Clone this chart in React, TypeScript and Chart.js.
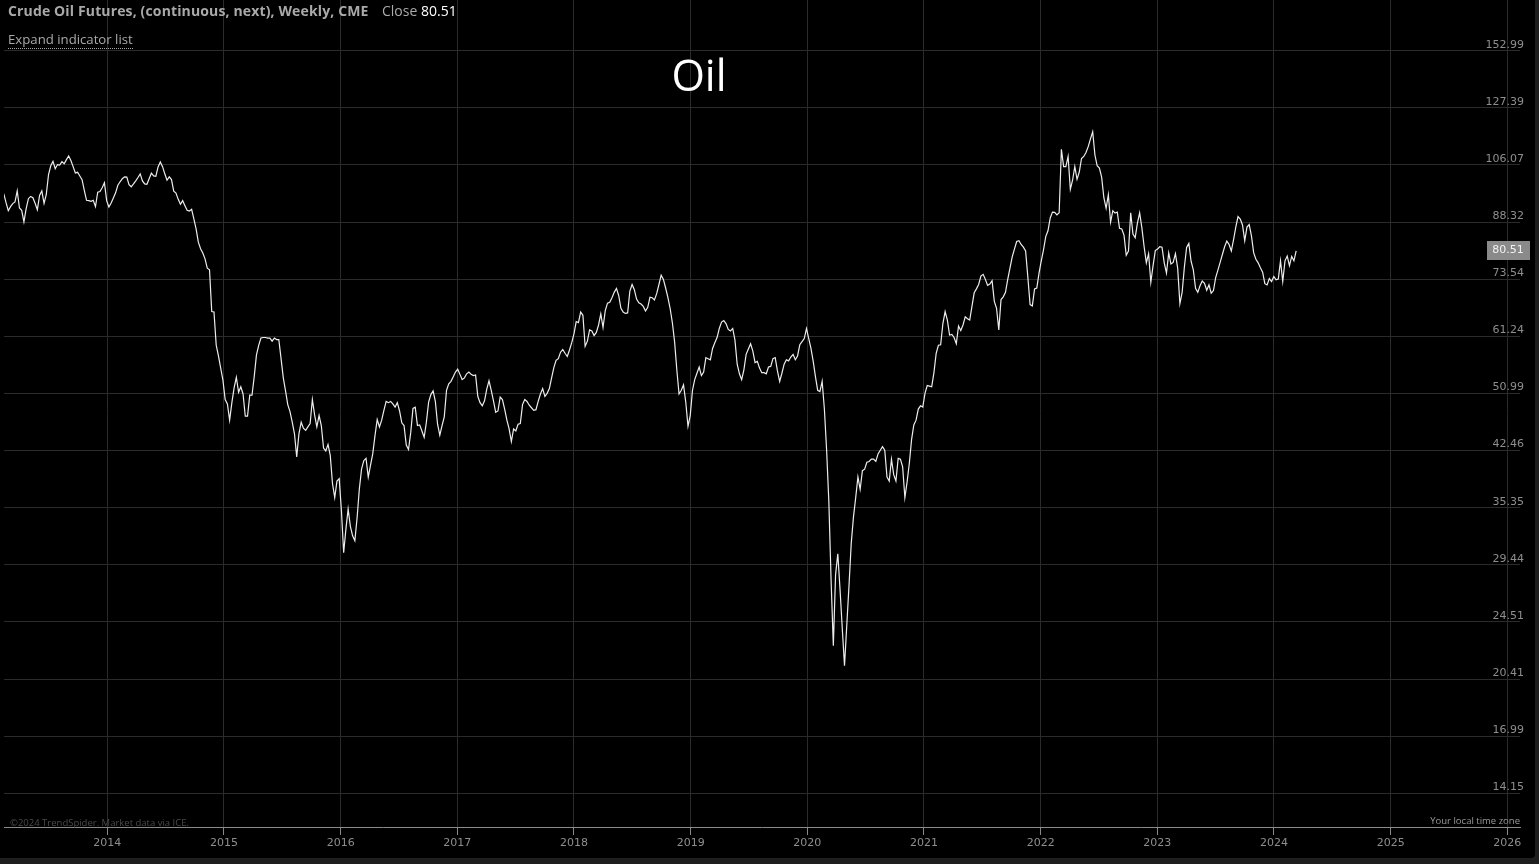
import React, { useEffect, useRef } from "react";
import { Chart, registerables } from "chart.js";

Chart.register(...registerables);

// ---- data (weekly closes, Crude Oil Futures continuous next, CME) ----
const firstWeek = "2013-02-11";

const close2013 = [96.7, 94.0, 91.6, 92.8, 93.7, 94.2, 97.6, 92.4, 91.7, 88.4, 92.2, 95.2, 95.9, 95.5, 93.8, 91.9, 96.2, 97.6, 93.8, 96.5, 102.8, 105.8, 107.3, 104.8, 106.2, 106.0, 107.2, 106.5, 107.9, 109.2, 107.6, 105.5, 103.4, 103.6, 102.4, 101.2, 97.8, 94.7, 94.6, 94.4, 94.7, 92.8, 97.2, 97.4, 98.6, 100.2, 94.6];
const close2014 = [92.7, 93.9, 95.4, 97.0, 99.4, 100.5, 101.5, 102.1, 102.0, 99.6, 98.9, 99.8, 100.8, 101.9, 103.1, 100.8, 99.8, 99.7, 101.5, 103.3, 102.4, 102.3, 105.4, 107.1, 105.5, 103.1, 101.0, 102.1, 101.2, 97.5, 96.9, 95.0, 93.5, 94.6, 93.1, 91.7, 91.5, 92.0, 89.2, 86.4, 82.8, 81.1, 80.0, 78.5, 76.2, 75.8, 66.3, 66.2, 59.5, 57.5, 55.3, 53.2];
const close2015 = [50.0, 49.3, 46.8, 49.5, 51.9, 53.7, 51.2, 52.1, 50.9, 47.4, 47.4, 50.7, 50.7, 53.8, 57.7, 59.5, 60.9, 61.0, 61.0, 60.9, 60.9, 60.3, 60.9, 60.6, 60.6, 57.0, 53.6, 51.4, 49.2, 48.1, 46.5, 44.8, 41.6, 44.8, 46.5, 45.6, 45.3, 45.8, 46.3, 50.0, 47.6, 45.8, 47.5, 46.0, 42.8, 42.4, 43.3, 41.8, 38.2, 36.5, 38.5, 38.8];
const close2016 = [35.0, 30.6, 33.0, 35.2, 33.3, 32.3, 31.8, 34.2, 37.5, 40.0, 41.1, 41.4, 39.0, 40.5, 42.0, 44.5, 46.9, 45.8, 46.8, 48.3, 49.7, 49.5, 49.7, 49.3, 48.8, 49.5, 48.2, 46.4, 46.0, 43.2, 42.6, 45.0, 48.6, 48.8, 46.0, 46.1, 45.2, 44.3, 46.5, 49.6, 50.8, 51.4, 49.7, 46.2, 44.6, 46.0, 47.3, 51.5, 52.6, 53.0, 53.8, 54.6];
const close2017 = [55.1, 54.2, 53.3, 53.6, 54.3, 54.6, 54.2, 54.0, 54.1, 50.5, 49.5, 49.0, 49.8, 51.7, 53.1, 51.5, 49.8, 48.0, 48.2, 50.4, 50.0, 48.5, 46.8, 45.5, 43.7, 45.5, 45.2, 46.2, 46.3, 49.2, 50.0, 49.7, 49.1, 48.7, 48.3, 48.4, 49.7, 50.9, 51.8, 50.5, 51.0, 51.8, 53.6, 55.4, 56.7, 57.0, 58.2, 58.7, 58.0, 57.4, 58.6, 60.0];
const close2018 = [61.7, 64.2, 64.0, 66.2, 65.5, 59.3, 60.3, 62.5, 62.3, 61.4, 62.0, 63.5, 65.8, 63.0, 66.5, 68.1, 68.3, 69.3, 70.5, 71.4, 69.8, 67.0, 66.2, 65.9, 66.0, 70.8, 72.3, 71.1, 69.0, 68.2, 67.9, 67.4, 66.4, 67.2, 69.4, 69.3, 68.8, 70.2, 72.3, 74.5, 73.5, 71.5, 69.4, 67.0, 64.0, 60.2, 55.0, 50.9, 51.5, 52.4, 49.6, 45.9, 47.5];
const close2019 = [51.5, 53.3, 54.4, 55.5, 54.0, 54.6, 57.2, 57.0, 56.8, 58.9, 60.0, 61.0, 62.8, 64.1, 64.4, 63.8, 62.6, 62.3, 62.8, 60.5, 56.0, 54.3, 53.3, 55.0, 57.8, 58.8, 59.8, 58.4, 56.3, 56.5, 55.3, 54.5, 54.5, 54.3, 55.5, 55.6, 57.0, 57.2, 54.8, 53.0, 54.4, 56.0, 56.8, 56.6, 57.3, 57.8, 56.8, 57.5, 59.6, 60.2, 60.8, 62.8];
const close2020 = [60.8, 58.9, 56.5, 53.8, 51.5, 51.3, 53.0, 48.5, 42.5, 36.0, 28.0, 22.7, 28.5, 30.5, 27.2, 24.0, 21.3, 24.2, 27.5, 31.5, 34.3, 36.5, 39.0, 37.5, 39.8, 40.0, 40.9, 41.0, 41.3, 41.3, 41.0, 42.0, 42.5, 43.0, 42.5, 39.0, 38.5, 41.3, 39.3, 38.5, 41.4, 41.3, 40.3, 36.5, 38.4, 40.8, 44.0, 46.1, 46.8, 48.5, 49.0, 48.8];
const close2021 = [51.0, 52.3, 52.2, 52.1, 54.5, 58.0, 59.5, 59.6, 63.8, 66.3, 64.5, 61.5, 61.6, 61.0, 59.8, 63.3, 62.4, 63.5, 65.2, 64.8, 64.5, 67.4, 70.4, 71.3, 72.3, 74.3, 74.7, 73.5, 72.1, 72.4, 73.2, 68.5, 67.0, 62.5, 68.9, 69.5, 70.5, 73.5, 76.2, 79.0, 81.0, 83.0, 83.2, 82.2, 81.5, 80.5, 74.0, 67.8, 67.5, 71.3, 71.5, 75.0];
const close2022 = [78.0, 80.8, 84.3, 85.9, 89.5, 91.2, 91.1, 90.4, 91.0, 111.5, 105.5, 105.5, 109.0, 98.1, 101.0, 105.5, 101.3, 103.7, 108.3, 109.0, 110.4, 112.5, 115.3, 118.0, 109.5, 105.8, 105.0, 102.0, 95.5, 92.3, 96.4, 88.3, 91.6, 90.9, 91.2, 86.6, 86.4, 84.7, 79.4, 80.5, 91.0, 85.0, 84.0, 88.0, 91.0, 86.7, 81.6, 77.5, 79.8, 72.8, 76.8, 80.6];
const close2023 = [81.0, 81.6, 81.5, 77.5, 75.0, 80.0, 77.2, 77.6, 79.8, 76.2, 68.0, 70.5, 76.4, 81.4, 82.5, 77.9, 75.8, 71.4, 70.5, 72.0, 73.1, 72.6, 71.0, 72.2, 70.3, 70.9, 73.9, 75.7, 77.6, 79.6, 81.6, 83.1, 82.2, 80.5, 83.5, 86.9, 89.9, 89.2, 87.5, 83.2, 86.9, 87.6, 84.5, 80.0, 78.4, 77.5, 76.3, 75.2, 72.5, 72.2, 73.7, 73.0];
const close2024 = [74.2, 73.4, 73.6, 78.0, 73.0, 78.0, 79.2, 76.8, 79.1, 78.0, 80.51];

const yearTicks = [2014, 2015, 2016, 2017, 2018, 2019, 2020, 2021, 2022, 2023, 2024, 2025, 2026];
const priceTicks = [14.15, 16.99, 20.41, 24.51, 29.44, 35.35, 42.46, 50.99, 61.24, 73.54, 88.32, 106.07, 127.39, 152.99];

const X_MIN = 2013.1146;
const X_MAX = 2026.1089;
const Y_MIN = 12.7;
const Y_MAX = 180.0;

const weeklyClose = [
  ...close2013, ...close2014, ...close2015, ...close2016, ...close2017, ...close2018,
  ...close2019, ...close2020, ...close2021, ...close2022, ...close2023, ...close2024,
];
const lastClose = weeklyClose[weeklyClose.length - 1];

const DAY = 86400000;
function decimalYear(ms: number) {
  return 1970 + ms / DAY / 365.25;
}

const CANVAS_W = 1535;
const CANVAS_H = 858;

const lastPriceTag = {
  id: "lastPriceTag",
  afterDraw(chart: any) {
    const { ctx, chartArea, scales } = chart;
    const y = scales.y.getPixelForValue(lastClose);
    ctx.save();
    ctx.fillStyle = "#8a8a8a";
    ctx.fillRect(chartArea.right - 33, Math.round(y) - 10, 43, 19);
    ctx.fillStyle = "#f2f2f2";
    ctx.font = "11px 'DejaVu Sans'";
    ctx.textAlign = "center";
    ctx.textBaseline = "middle";
    ctx.fillText(lastClose.toFixed(2), chartArea.right - 12, Math.round(y) - 0.5);
    ctx.restore();
  },
};

export default function App() {
  const ref = useRef<HTMLCanvasElement | null>(null);

  useEffect(() => {
    document.body.style.margin = "0";
    document.body.style.background = "#1e1e1e";
    const canvas = ref.current;
    if (!canvas) return;
    const t0 = decimalYear(Date.parse(firstWeek + "T00:00:00Z"));
    const points = weeklyClose.map((v, i) => ({ x: t0 + (i * 7) / 365.25, y: v }));

    const chart = new Chart(canvas, {
      type: "line",
      data: {
        datasets: [
          {
            data: points,
            borderColor: "#ededed",
            borderWidth: 1.2,
            pointRadius: 0,
            tension: 0,
            fill: false,
          },
        ],
      },
      options: {
        animation: false,
        responsive: false,
        maintainAspectRatio: false,
        events: [],
        layout: { padding: { left: 4, right: 0, top: 0, bottom: 0 } },
        plugins: {
          legend: { display: false },
          tooltip: { enabled: false },
          title: { display: false },
        },
        scales: {
          x: {
            type: "linear",
            min: X_MIN,
            max: X_MAX,
            afterBuildTicks: (s: any) => {
              s.ticks = yearTicks.map((v) => ({ value: v }));
            },
            afterFit: (s: any) => {
              s.height = 31;
              s.paddingLeft = 0;
              s.paddingRight = 0;
            },
            grid: {
              color: "#2b2b2b",
              lineWidth: 1,
              drawTicks: true,
              tickLength: 8,
              tickColor: "#8a8a8a",
            },
            border: { display: true, color: "#8a8a8a", width: 1 },
            ticks: {
              color: "#8e8e8e",
              font: { family: "'DejaVu Sans'", size: 11 },
              padding: 2,
              maxRotation: 0,
              autoSkip: false,
              callback: (v: any) => String(v),
            },
          },
          y: {
            type: "logarithmic",
            position: "right",
            min: Y_MIN,
            max: Y_MAX,
            afterBuildTicks: (s: any) => {
              s.ticks = priceTicks.map((v) => ({ value: v }));
            },
            afterFit: (s: any) => {
              s.width = 15;
              s.paddingTop = 0;
              s.paddingBottom = 0;
            },
            grid: { color: "#2b2b2b", lineWidth: 1, drawTicks: false },
            border: { display: false },
            ticks: {
              mirror: true,
              padding: 4,
              labelOffset: -6,
              color: "#8e8e8e",
              font: { family: "'DejaVu Sans'", size: 11 },
              autoSkip: false,
              callback: (v: any) => Number(v).toFixed(2),
            },
          },
        },
      },
      plugins: [lastPriceTag],
    });
    return () => chart.destroy();
  }, []);

  const gray = "#a9a9a9";
  return (
    <div style={{ position: "relative", width: 1539, height: 864, background: "#1e1e1e", overflow: "hidden" }}>
      <canvas
        ref={ref}
        width={CANVAS_W}
        height={CANVAS_H}
        style={{ position: "absolute", left: 0, top: 0, width: CANVAS_W, height: CANVAS_H, background: "#000", borderBottomRightRadius: 4 }}
      />
      <div style={{ position: "absolute", left: 8, top: 4, font: "bold 14px 'Open Sans'", lineHeight: "14px", letterSpacing: "0.14px", color: gray, whiteSpace: "nowrap" }}>
        Crude Oil Futures, (continuous, next), Weekly, CME
      </div>
      <div style={{ position: "absolute", left: 382, top: 4, font: "14px 'Open Sans'", lineHeight: "14px", color: gray, whiteSpace: "nowrap" }}>
        Close <span style={{ color: "#ffffff" }}>{lastClose.toFixed(2)}</span>
      </div>
      <div style={{ position: "absolute", left: 8, top: 32.6, font: "13.2px 'Open Sans'", lineHeight: "13px", color: gray, whiteSpace: "nowrap", paddingBottom: 2, borderBottom: "1px dotted #a9a9a9" }}>
        Expand indicator list
      </div>
      <div style={{ position: "absolute", left: 0, width: 1398, top: 54, font: "43px 'Open Sans'", lineHeight: "42px", color: "#ffffff", textAlign: "center", whiteSpace: "nowrap" }}>
        Oil
      </div>
      <div style={{ position: "absolute", left: 10, top: 818, font: "9.5px 'Open Sans'", lineHeight: "10px", color: "#4a4a4a", whiteSpace: "nowrap" }}>
        ©2024 TrendSpider. Market data via ICE.
      </div>
      <div style={{ position: "absolute", right: 1539 - 1520, top: 816, font: "9.5px 'Open Sans'", lineHeight: "10px", color: "#9a9a9a", whiteSpace: "nowrap", textAlign: "right" }}>
        Your local time zone
      </div>
    </div>
  );
}
